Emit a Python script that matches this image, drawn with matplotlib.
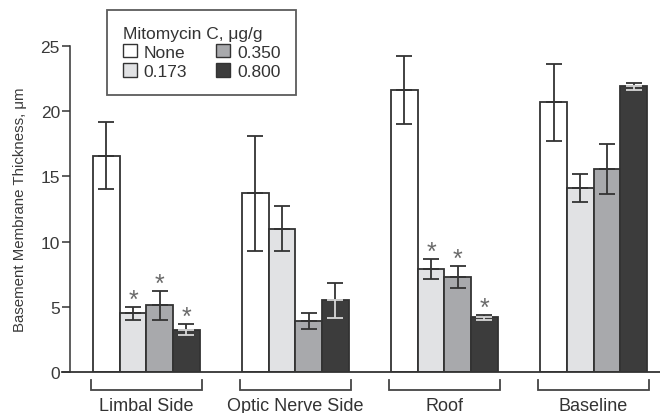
import matplotlib
matplotlib.use('Agg')
import matplotlib.pyplot as plt
import numpy as np
from matplotlib import font_manager
from matplotlib.patches import Patch

groups   = ['Limbal Side', 'Optic Nerve Side', 'Roof', 'Baseline']
doses    = ['None', '0.173', '0.350', '0.800']

none_mean = [16.6, 13.7, 21.6, 20.7]
none_err  = [2.6, 4.4, 2.6, 2.95]
low_mean  = [4.5, 11.0, 7.9, 14.1]
low_err   = [0.5, 1.75, 0.8, 1.05]
mid_mean  = [5.1, 3.9, 7.3, 15.55]
mid_err   = [1.1, 0.6, 0.85, 1.9]
high_mean = [3.25, 5.5, 4.2, 21.9]
high_err  = [0.45, 1.35, 0.2, 0.25]

# asterisk = significant vs untreated
none_sig = [False, False, False, False]
low_sig  = [True, False, True, False]
mid_sig  = [True, False, True, False]
high_sig = [True, False, True, False]

means  = [none_mean, low_mean, mid_mean, high_mean]
errs   = [none_err, low_err, mid_err, high_err]
sigs   = [none_sig, low_sig, mid_sig, high_sig]
fills  = ['#ffffff', '#e1e2e4', '#a8a9ac', '#3c3c3c']
lowcol = ['#333333', '#333333', '#333333', '#d8d8d8']

names = {f.name for f in font_manager.fontManager.ttflist}
plt.rcParams['font.family'] = ['Liberation Sans', 'DejaVu Sans']
narrow = 'Liberation Sans Narrow' in names

ink = '#333333'

fig = plt.figure(figsize=(6.6, 4.14), dpi=100)
ax = fig.add_axes([62/660, 41/414, 598/660, 362/414])

w = 0.179
x = np.arange(len(groups))
for i in range(4):
    xs = x + (i - 1.5) * w
    ax.bar(xs, means[i], w, color=fills[i], edgecolor=ink, linewidth=1.3, zorder=2)
    zero = np.zeros(len(groups))
    ax.errorbar(xs, means[i], yerr=[zero, errs[i]], fmt='none', ecolor=ink,
                elinewidth=1.3, capsize=6, capthick=1.3, zorder=3)
    ax.errorbar(xs, means[i], yerr=[errs[i], zero], fmt='none', ecolor=lowcol[i],
                elinewidth=1.3, capsize=6, capthick=1.3, zorder=3)
    for j in range(len(groups)):
        if sigs[i][j]:
            ax.annotate('*', xy=(xs[j], means[i][j] + errs[i][j]), xytext=(0, 0),
                        textcoords='offset points', ha='center', va='baseline',
                        fontsize=18, color='#6a6a6a', zorder=4)

# group brackets under the axis
trans = ax.get_xaxis_transform()
half = 2 * w + 0.013
for c in x:
    ax.plot([c - half, c - half, c + half, c + half], [-0.022, -0.05, -0.05, -0.022],
            transform=trans, color='#444444', lw=1.3, clip_on=False,
            solid_joinstyle='miter')

ax.set_xlim(-0.566, 3.446)
ax.set_ylim(0, 27.76)
ax.set_xticks(x)
ax.set_xticklabels(groups, fontsize=13, color=ink)
ax.tick_params(axis='x', length=0, pad=18)
ax.set_yticks([0, 5, 10, 15, 20, 25])
ax.tick_params(axis='y', direction='out', length=5.8, width=1.1, color=ink,
               pad=1.5, labelsize=12.5, labelcolor='#3a3a3a')

for s in ['top', 'right']:
    ax.spines[s].set_visible(False)
ax.spines['left'].set_position(('data', -0.512))
ax.spines['left'].set_bounds(0, 25)
ax.spines['left'].set_linewidth(1.1)
ax.spines['left'].set_color(ink)
ax.spines['bottom'].set_linewidth(1.3)
ax.spines['bottom'].set_color(ink)

if narrow:
    fig.text(20/660, 0.493, 'Basement Membrane Thickness, μm', rotation=90,
             ha='center', va='center', fontsize=12.7, color='#3a3a3a',
             family=['Liberation Sans Narrow', 'DejaVu Sans'])
else:
    fig.text(20/660, 0.493, 'Basement Membrane Thickness, μm', rotation=90,
             ha='center', va='center', fontsize=10.8, color='#3a3a3a')

handles = [Patch(facecolor=fills[i], edgecolor=ink, linewidth=1.0) for i in range(4)]
leg = fig.legend(handles, doses, ncol=2, loc='upper left',
                 bbox_to_anchor=(107/660, 1 - 11/414), borderaxespad=0,
                 title='Mitomycin C, μg/g', alignment='left',
                 fontsize=12.5, title_fontsize=12.5, frameon=True, fancybox=False,
                 handlelength=0.8, handleheight=0.8, handletextpad=0.4,
                 columnspacing=1.7, labelspacing=0.2, borderpad=0.9)
leg.get_frame().set_edgecolor(ink)
leg.get_frame().set_linewidth(1.3)
for t in leg.get_texts():
    t.set_color(ink)
leg.get_title().set_color(ink)

fig.savefig('out.png', dpi=100)
